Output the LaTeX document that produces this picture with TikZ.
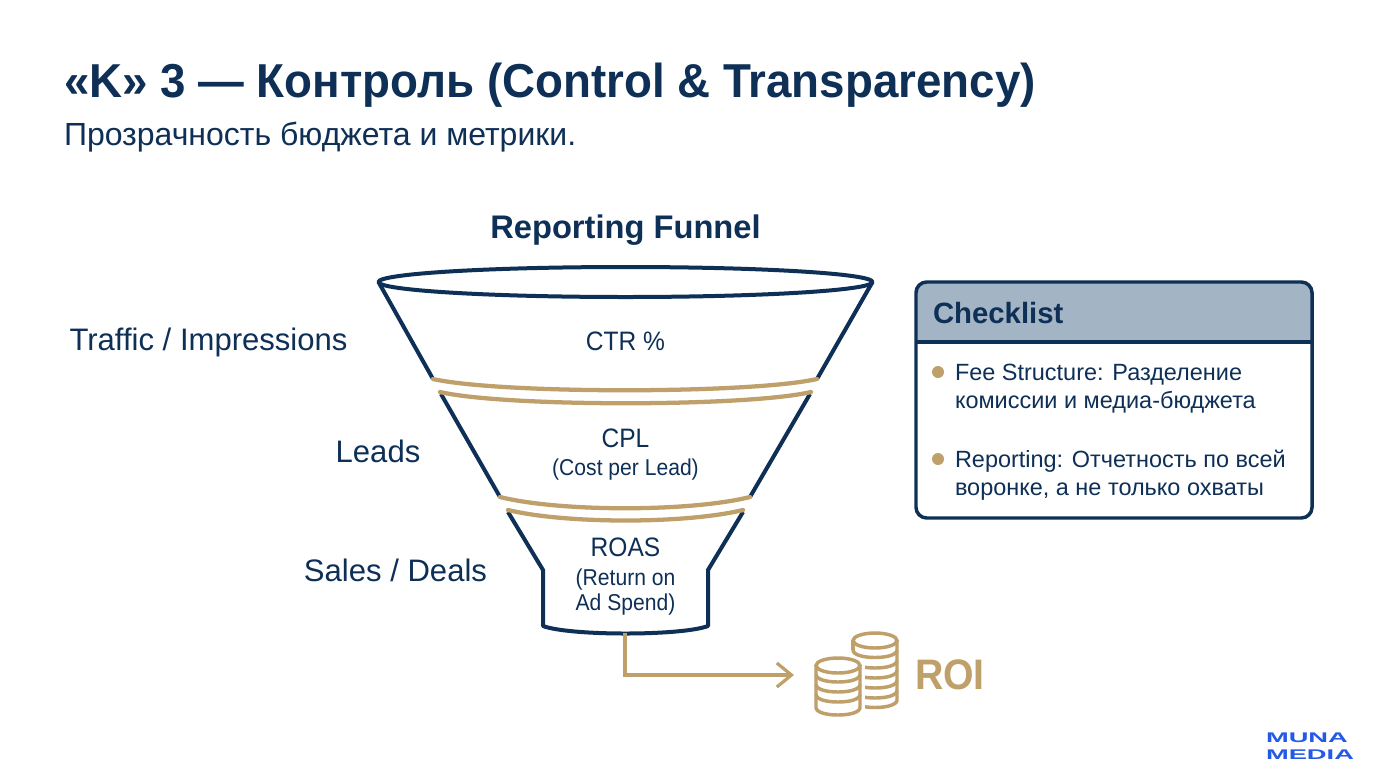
\documentclass[tikz,border=0pt]{standalone}
\usepackage{fontspec}
\setmainfont{Liberation Sans}
\newfontfamily\logofont[FakeStretch=1.95]{Liberation Sans}
\newfontfamily\slimfont[FakeStretch=0.92]{Liberation Sans}
\newfontfamily\titlefont[FakeStretch=0.96]{Liberation Sans}
\usepackage{xcolor}
\usetikzlibrary{arrows.meta, positioning, calc}
\definecolor{navy}{HTML}{0E2F56}
\definecolor{gold}{HTML}{BF9F6A}
\definecolor{headfill}{HTML}{A3B4C5}
\definecolor{logoblue}{HTML}{2458E6}
\tikzset{
  every node/.style={inner sep=0pt, outer sep=0pt, text=navy},
  title/.style={anchor=base west, font=\titlefont\bfseries\fontsize{35.7}{40}\selectfont},
  subtitle/.style={anchor=base west, font=\fontsize{24}{27}\selectfont},
  heading/.style={anchor=base, font=\bfseries\fontsize{24.5}{28}\selectfont},
  stagelabel/.style={anchor=base, font=\fontsize{23.3}{26}\selectfont},
  metric/.style={anchor=base, font=\slimfont\fontsize{20}{22}\selectfont},
  metricsub/.style={anchor=base, font=\slimfont\fontsize{17.2}{20}\selectfont},
  listhead/.style={anchor=base west, font=\bfseries\fontsize{22}{26}\selectfont},
  listitem/.style={anchor=base west, font=\fontsize{17.6}{20}\selectfont},
  bullet/.style={circle, fill=gold, minimum size=9pt},
  funnelline/.style={draw=navy, line width=3pt, line join=round},
  rim/.style={draw=gold, line width=3.2pt, line cap=round},
  roiarrow/.style={draw=gold, line width=2.4pt, -{Straight Barb[length=11pt, width=18pt, line width=2.4pt]}},
  coin/.style={draw=gold, line width=2.6pt},
  logo/.style={anchor=base west, text=logoblue, font=\logofont\bfseries\fontsize{10.5}{12}\selectfont}
}
\begin{document}
\begin{tikzpicture}[x=0.75pt, y=-0.75pt]
    \useasboundingbox (0,0) rectangle (1376,768);
    \fill[white] (0,0) rectangle (1376,768);

    \node[title] (maintitle) at (64,97) {«K» 3 — Контроль (Control \& Transparency)};
    \node[subtitle] (subline) at (64,145) {Прозрачность бюджета и метрики.};
    \node[heading] (funneltitle) at (625.5,238) {Reporting Funnel};

    % funnel
    \draw[funnelline] (625.5,282) ellipse [x radius=247, y radius=15];
    \draw[funnelline] (378.5,282) -- (433,379);
    \draw[funnelline] (872.5,282) -- (817,379);
    \draw[funnelline] (441,394) -- (500,497);
    \draw[funnelline] (810,394) -- (750,497);
    \draw[funnelline] (508,512) -- (543,570) -- (543,626) .. controls (570,636) and (681,636) .. (708,626) -- (708,570) -- (743,512);
    \draw[rim] (433,379) .. controls (500,394) and (750,394) .. (817,379);
    \draw[rim] (440,392) .. controls (505,407) and (746,407) .. (811,392);
    \draw[rim] (500,497) .. controls (560,512) and (690,512) .. (750,497);
    \draw[rim] (508,510) .. controls (566,524) and (685,524) .. (743,510);

    \node[metric] (ctr) at (625.5,350) {CTR \%};
    \node[metric] (cpl) at (625.5,447) {CPL};
    \node[metricsub] (cplsub) at (625.5,475) {(Cost per Lead)};
    \node[metric] (roas) at (625.5,556) {ROAS};
    \node[metricsub] (roasone) at (625.5,585) {(Return on};
    \node[metricsub] (roastwo) at (625.5,610) {Ad Spend)};

    \node[stagelabel] (traffic) at (208.5,350) {Traffic / Impressions};
    \node[stagelabel] (leads) at (378,462) {Leads};
    \node[stagelabel] (sales) at (395.5,581) {Sales / Deals};

    % coins
    \coordinate (funnelout) at (625,633);
    \coordinate (coinsin) at (794,675);
    \draw[roiarrow] (funnelout) |- (coinsin);
    \draw[coin] (853,641) -- (853,650);
    \draw[coin] (897,641) -- (897,700) .. controls (897,710) and (853,710) .. (853,700);
    \foreach \y in {650,660.5,670.5,680.5,690.5} {
      \draw[coin] (853,\y) .. controls (853,\y+10) and (897,\y+10) .. (897,\y);
    }
    \draw[coin] (875,640.5) ellipse [x radius=22, y radius=7.5];
    \fill[white] (811,660) rectangle (865,720);
    \draw[coin] (816,665.5) -- (816,707.5) .. controls (816,717.5) and (860,717.5) .. (860,707.5) -- (860,665.5);
    \foreach \y in {674.5,684.5,694.5} {
      \draw[coin] (816,\y) .. controls (816,\y+10) and (860,\y+10) .. (860,\y);
    }
    \draw[coin] (838,665.5) ellipse [x radius=22, y radius=7.5];
    \node[anchor=base west, text=gold, font=\slimfont\bfseries\fontsize{32}{34}\selectfont] (roi) at (915,689) {ROI};

    % checklist
    \path[fill=headfill, rounded corners=8] (916,342) -- (916,282) -- (1312,282) [sharp corners] -- (1312,342) -- cycle;
    \draw[navy, line width=2.6pt, rounded corners=8] (916,282) rectangle (1312,518);
    \draw[navy, line width=2.6pt] (916,342) -- (1312,342);
    \node[listhead] (checkhead) at (933,323) {Checklist};
    \node[bullet] (dotone) at (938,372) {};
    \node[bullet] (dottwo) at (938,459) {};
    \node[listitem] (feeone) at (955,380) {Fee Structure: Разделение};
    \node[listitem] (feetwo) at (955,408) {комиссии и медиа-бюджета};
    \node[listitem] (repone) at (955,467) {Reporting: Отчетность по всей};
    \node[listitem] (reptwo) at (955,495) {воронке, а не только охваты};

    \node[logo] (logotop) at (1266,742) {MUNA};
    \node[logo] (logobottom) at (1266,759) {MEDIA};
\end{tikzpicture}
\end{document}
